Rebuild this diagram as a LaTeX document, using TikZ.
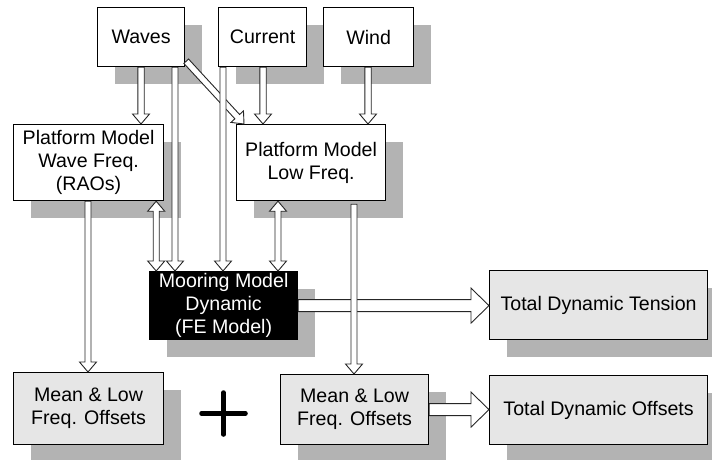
\documentclass[tikz,border=0pt]{standalone}
\usepackage{fontspec}
\setmainfont{Liberation Sans}
\usetikzlibrary{calc,shadows}
\definecolor{shadowgray}{HTML}{B3B3B3}
\definecolor{lightfill}{HTML}{E6E6E6}

% Outlined block arrow: from, to, shaft half-width, head half-width, head length
\newcommand\blockarrow[5]{%
  \coordinate (ba-a) at #1;
  \coordinate (ba-b) at #2;
  \coordinate (ba-h) at ($(ba-b)!#5!(ba-a)$);
  \draw[arrowline] ($(ba-a)!#3!90:(ba-b)$) -- ($(ba-h)!#3!-90:(ba-a)$)
    -- ($(ba-h)!#4!-90:(ba-a)$) -- (ba-b) -- ($(ba-h)!#4!90:(ba-a)$)
    -- ($(ba-h)!#3!90:(ba-a)$) -- ($(ba-a)!#3!-90:(ba-b)$) -- cycle;}

% Outlined block arrow with a head at both ends
\newcommand\blockarrowboth[5]{%
  \coordinate (ba-a) at #1;
  \coordinate (ba-b) at #2;
  \coordinate (ba-h1) at ($(ba-a)!#5!(ba-b)$);
  \coordinate (ba-h2) at ($(ba-b)!#5!(ba-a)$);
  \draw[arrowline] (ba-a) -- ($(ba-h1)!#4!90:(ba-b)$) -- ($(ba-h1)!#3!90:(ba-b)$)
    -- ($(ba-h2)!#3!-90:(ba-a)$) -- ($(ba-h2)!#4!-90:(ba-a)$) -- (ba-b)
    -- ($(ba-h2)!#4!90:(ba-a)$) -- ($(ba-h2)!#3!90:(ba-a)$)
    -- ($(ba-h1)!#3!-90:(ba-b)$) -- ($(ba-h1)!#4!-90:(ba-b)$) -- cycle;}

\begin{document}
\begin{tikzpicture}[x=1pt,y=-1pt,
  box/.style={draw=black, line width=1.2pt, fill=white, anchor=north west,
    inner sep=0pt, align=center, font=\fontsize{19.6}{23}\selectfont,
    drop shadow={shadow xshift=17pt, shadow yshift=-17pt, fill=shadowgray,
      draw=none, opacity=1}},
  result/.style={box, fill=lightfill},
  dark/.style={box, fill=black, text=white},
  arrowline/.style={draw=black!85, line width=0.9pt, fill=white, line join=miter}]

\useasboundingbox (0,0) rectangle (712,459);

% inputs
\node[box, minimum width=87pt, minimum height=59pt] (waves) at (97,7) {Waves};
\node[box, minimum width=88pt, minimum height=59pt] (current) at (218,7) {Current};
\node[box, minimum width=90pt, minimum height=59pt] (wind) at (323,7) {Wind};

% platform models
\node[box, minimum width=150pt, minimum height=76pt] (pmwf) at (13,124)
  {Platform Model\\Wave Freq.\\(RAOs)};
\node[box, minimum width=149pt, minimum height=76pt] (pmlf) at (236,124)
  {Platform Model\\Low Freq.};

% mooring model
\node[dark, minimum width=148pt, minimum height=68pt] (moor) at (149,271)
  {Mooring Model\\Dynamic\\(FE Model)};

% results
\node[result, minimum width=218pt, minimum height=69pt] (tdt) at (489,270)
  {Total Dynamic Tension};
\node[result, minimum width=150pt, minimum height=72pt] (mlfo1) at (13,372)
  {Mean \& Low\\Freq. Offsets};
\node[result, minimum width=148pt, minimum height=70pt] (mlfo2) at (280,374)
  {Mean \& Low\\Freq. Offsets};
\node[result, minimum width=218pt, minimum height=69pt] (tdo) at (489,375)
  {Total Dynamic Offsets};

% wide horizontal arrows
\blockarrow{(moor.east)}{(moor.east -| tdt.west)}{6pt}{17.5pt}{18pt}
\blockarrow{(mlfo2.east)}{(mlfo2.east -| tdo.west)}{6pt}{17.5pt}{18pt}

% inputs to platform models
\blockarrow{([xshift=44pt]waves.south west)}{(ba-a |- pmwf.north)}{3.2pt}{8.5pt}{10pt}
\blockarrow{([xshift=45pt]current.south west)}{(ba-a |- pmlf.north)}{3.2pt}{8.5pt}{10pt}
\blockarrow{([xshift=45pt]wind.south west)}{(ba-a |- pmlf.north)}{3.2pt}{8.5pt}{10pt}
\blockarrow{([xshift=1pt,yshift=6pt]waves.south east)}{([xshift=8pt]pmlf.north west)}{3.2pt}{8.5pt}{10pt}

% inputs to mooring model
\blockarrow{([xshift=78pt]waves.south west)}{(ba-a |- moor.north)}{3pt}{8.5pt}{10pt}
\blockarrow{([xshift=5pt]current.south west)}{(ba-a |- moor.north)}{3pt}{8.5pt}{10pt}
\blockarrowboth{([xshift=-8pt]pmwf.south east)}{(ba-a |- moor.north)}{3pt}{8.5pt}{10pt}
\blockarrowboth{([xshift=42pt]pmlf.south west)}{(ba-a |- moor.north)}{3pt}{8.5pt}{10pt}

% platform models to offsets
\blockarrow{([xshift=75pt]pmwf.south west)}{(ba-a |- mlfo1.north)}{3pt}{8.5pt}{10pt}
\blockarrow{([xshift=118pt,yshift=-3pt]pmlf.south west)}{(ba-a |- mlfo2.north)}{3pt}{8.5pt}{10pt}

% plus sign between the two offset boxes
\coordinate (plus) at (223.5,413.5);
\draw[line width=4.5pt, line cap=round]
  ([xshift=-22pt]plus) -- ([xshift=22pt]plus)
  ([yshift=21pt]plus) -- ([yshift=-21pt]plus);

\end{tikzpicture}
\end{document}
